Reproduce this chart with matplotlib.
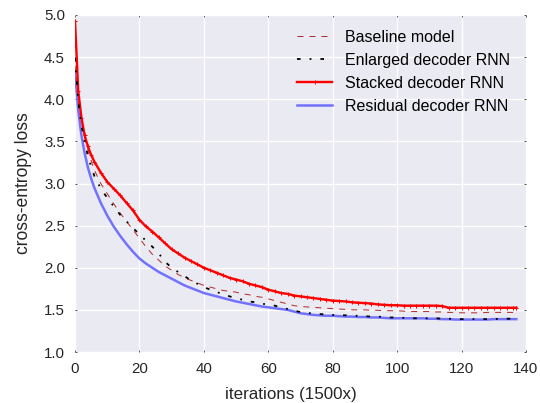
import matplotlib
matplotlib.use("Agg")
import matplotlib.pyplot as plt

iterations = [0, 1, 2, 3, 4, 5, 6] + list(range(8, 137, 2)) + [137]

baseline = [4.40, 3.97, 3.74, 3.55, 3.40, 3.27, 3.16,
            3.00, 2.88, 2.76, 2.65, 2.55, 2.45, 2.35, 2.25, 2.16, 2.09,
            2.02, 1.97, 1.92, 1.88, 1.85, 1.82, 1.79, 1.77, 1.75, 1.73,
            1.72, 1.71, 1.69, 1.68, 1.66, 1.65, 1.63, 1.61, 1.59, 1.57,
            1.55, 1.54, 1.535, 1.53, 1.525, 1.52, 1.515, 1.51, 1.505, 1.50,
            1.50, 1.50, 1.495, 1.495, 1.49, 1.49, 1.49, 1.485, 1.48, 1.48,
            1.48, 1.48, 1.475, 1.475, 1.47, 1.47, 1.465, 1.465, 1.465, 1.465,
            1.47, 1.47, 1.47, 1.47, 1.47, 1.47]

enlarged = [4.49, 3.98, 3.69, 3.49, 3.33, 3.20, 3.09,
            2.94, 2.83, 2.73, 2.63, 2.55, 2.47, 2.40, 2.32, 2.25, 2.17,
            2.07, 2.00, 1.95, 1.90, 1.85, 1.81, 1.77, 1.74, 1.71, 1.69,
            1.66, 1.64, 1.62, 1.60, 1.59, 1.575, 1.56, 1.55, 1.53, 1.51,
            1.49, 1.475, 1.465, 1.455, 1.45, 1.445, 1.44, 1.44, 1.435, 1.43,
            1.43, 1.425, 1.42, 1.42, 1.415, 1.41, 1.41, 1.405, 1.40, 1.40,
            1.40, 1.40, 1.40, 1.395, 1.395, 1.39, 1.39, 1.39, 1.39, 1.39,
            1.39, 1.39, 1.395, 1.395, 1.395, 1.395]

stacked = [4.93, 4.10, 3.78, 3.57, 3.44, 3.34, 3.26,
           3.13, 3.02, 2.94, 2.86, 2.77, 2.68, 2.57, 2.49, 2.43, 2.36,
           2.29, 2.22, 2.17, 2.12, 2.08, 2.04, 2.00, 1.97, 1.94, 1.91,
           1.88, 1.86, 1.84, 1.81, 1.79, 1.77, 1.74, 1.72, 1.70, 1.69,
           1.67, 1.66, 1.65, 1.64, 1.63, 1.62, 1.61, 1.605, 1.60, 1.59,
           1.585, 1.58, 1.575, 1.565, 1.56, 1.555, 1.555, 1.55, 1.55, 1.55,
           1.55, 1.55, 1.55, 1.545, 1.525, 1.525, 1.525, 1.525, 1.525, 1.525,
           1.525, 1.525, 1.525, 1.525, 1.525, 1.525]

residual = [4.33, 3.87, 3.57, 3.36, 3.19, 3.06, 2.95,
            2.77, 2.62, 2.49, 2.38, 2.28, 2.19, 2.11, 2.05, 2.00, 1.95,
            1.91, 1.87, 1.83, 1.79, 1.76, 1.73, 1.70, 1.68, 1.66, 1.64,
            1.62, 1.60, 1.585, 1.57, 1.555, 1.54, 1.53, 1.52, 1.51, 1.50,
            1.48, 1.46, 1.45, 1.44, 1.435, 1.43, 1.43, 1.425, 1.42, 1.42,
            1.415, 1.415, 1.41, 1.41, 1.405, 1.40, 1.40, 1.40, 1.40, 1.40,
            1.40, 1.395, 1.395, 1.39, 1.39, 1.385, 1.385, 1.385, 1.385, 1.385,
            1.385, 1.39, 1.39, 1.39, 1.39, 1.39]

labels = ["Baseline model", "Enlarged decoder RNN", "Stacked decoder RNN", "Residual decoder RNN"]
xticks = [0, 20, 40, 60, 80, 100, 120, 140]
yticks = [1.0, 1.5, 2.0, 2.5, 3.0, 3.5, 4.0, 4.5, 5.0]

plt.rcParams['font.family'] = ['Liberation Sans', 'DejaVu Sans']
fig = plt.figure(figsize=(7.5, 403 / 72), dpi=72)
ax = fig.add_axes([75 / 540, 1 - 352 / 403, 451 / 540, 337 / 403])
ax.set_facecolor('#EAEAF2')
for s in ax.spines.values():
    s.set_visible(False)
ax.grid(True, color='white', linewidth=1.3)
ax.set_axisbelow(True)

l1, = ax.plot(iterations, baseline, color='#B52A2A', linewidth=1.0, dashes=(6, 6), zorder=3)
l4, = ax.plot(iterations, residual, color='#7272FF', linewidth=2.5, zorder=2)
l2, = ax.plot(iterations, enlarged, color='black', linewidth=1.8, dashes=(2, 5, 1, 5), zorder=4)
l3, = ax.plot(iterations, stacked, color='#FF0000', linewidth=2.4, marker='+', markersize=3.5,
              markeredgewidth=1.0, zorder=3)

ax.set_xlim(0, 140)
ax.set_ylim(1.0, 5.0)
ax.set_xticks(xticks)
ax.set_yticks(yticks)
ax.set_yticklabels([f"{v:.1f}" for v in yticks])
ax.tick_params(axis='both', which='both', direction='in', length=2, width=1, color='#555555',
               labelsize=15, labelcolor='#262626', top=True, right=True, pad=10)
ax.set_xlabel("iterations (1500x)", fontsize=17, color='#262626', labelpad=9)
ax.xaxis.set_label_coords(216 / 451, -0.105)
ax.set_ylabel("cross-entropy loss", fontsize=17.5, color='#262626', labelpad=12)

ax.legend([l1, l2, l3, l4], labels, loc='upper left', frameon=False, fontsize=16,
          handlelength=2.2, handletextpad=0.8, labelspacing=0.5,
          borderpad=0, borderaxespad=0,
          bbox_to_anchor=(297 / 540, 1 - 30 / 403), bbox_transform=fig.transFigure)

fig.savefig('out.png', dpi=72)
